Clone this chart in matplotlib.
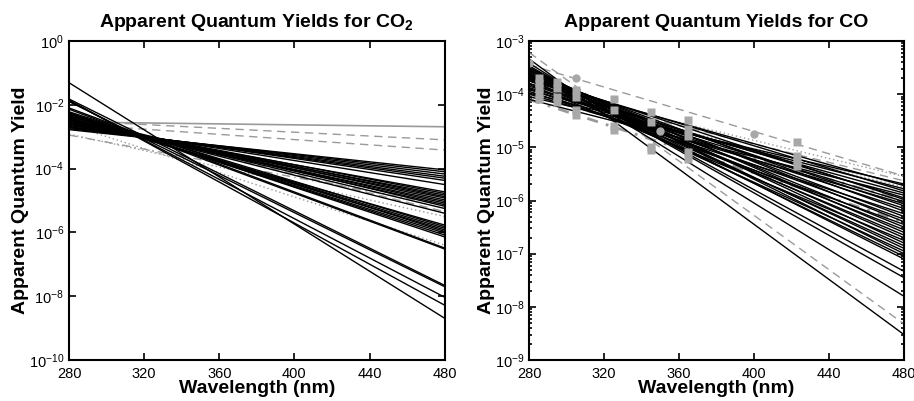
import numpy as np
import matplotlib
matplotlib.use("Agg")
import matplotlib.pyplot as plt
from matplotlib.ticker import LogLocator, FixedLocator, NullFormatter, FuncFormatter

plt.rcParams['font.family'] = ['Liberation Sans', 'DejaVu Sans']
plt.rcParams['mathtext.fontset'] = 'custom'
plt.rcParams['mathtext.rm'] = 'Liberation Sans'
plt.rcParams['mathtext.it'] = 'Liberation Sans'
plt.rcParams['mathtext.bf'] = 'Liberation Sans:bold'
plt.rcParams['mathtext.default'] = 'regular'

# ---------------- data ----------------
wl_ends = [280, 480]
x_ticks = [280, 320, 360, 400, 440, 480]

# CO2 panel: log10 yield at 280 nm (start) and 480 nm (end)
co2_black_start = [-1.31, -1.85, -1.88, -1.82, -1.90, -2.10, -2.14, -2.25, -2.28, -2.30,
                   -2.22, -2.35, -2.33, -2.27, -2.40, -2.42, -2.45, -2.38, -2.50, -2.48,
                   -2.52, -2.46, -2.55, -2.50, -2.58, -2.53, -2.60, -2.62, -2.65, -2.68,
                   -2.70, -2.72, -2.75, -2.78]
co2_black_end = [-8.69, -8.28, -8.03, -7.66, -7.70, -6.49, -6.52, -6.14, -6.08, -6.02,
                 -5.97, -5.92, -5.87, -5.82, -5.77, -5.40, -5.25, -5.18, -5.13, -5.08,
                 -5.03, -4.98, -4.92, -4.88, -4.83, -4.78, -4.73, -4.50, -4.37, -4.30,
                 -4.24, -4.17, -4.10, -4.04]
co2_gray_solid_start = [-2.54]
co2_gray_solid_end = [-2.69]
co2_gray_dashed_start = [-2.50, -2.60, -2.42]
co2_gray_dashed_end = [-3.10, -3.42, -5.35]
co2_gray_dashdot_start = [-2.95]
co2_gray_dashdot_end = [-5.15]
co2_gray_dotted_start = [-2.62, -2.92]
co2_gray_dotted_end = [-6.40, -5.50]

# CO panel
co_black_start = [-3.34, -3.42, -3.47, -3.50,
                  -4.05, -3.75, -3.98, -3.70, -3.92, -4.10, -3.80, -3.66, -3.88, -4.00,
                  -3.72, -3.85, -3.62, -3.95, -3.68, -3.80, -3.58, -3.90, -3.64, -3.75,
                  -3.55, -3.70, -3.60, -3.82, -3.52, -3.66, -3.56, -3.72, -3.50, -3.62,
                  -3.54]
co_black_end = [-8.52, -7.80, -7.45, -7.33,
                -5.69, -5.72, -5.78, -5.82, -5.86, -5.90, -5.95, -5.98, -6.02, -6.06,
                -6.10, -6.15, -6.20, -6.25, -6.30, -6.35, -6.40, -6.45, -6.50, -6.55,
                -6.60, -6.65, -6.70, -6.75, -6.80, -6.85, -6.90, -6.95, -7.00, -7.05,
                -7.10]
co_gray_dashed_start = [-3.22, -3.45, -3.90]
co_gray_dashed_end = [-8.32, -5.54, -5.63]
co_gray_dotted_start = [-3.85, -3.95, -4.00]
co_gray_dotted_end = [-5.55, -5.75, -6.05]
co_gray_dashdot_start = [-4.00, -4.10]
co_gray_dashdot_end = [-6.00, -6.40]

co_square_wl = [285, 285, 285, 285, 285, 295, 295, 295, 295, 305, 305, 305, 305,
                325, 325, 325, 325, 345, 345, 345, 345, 365, 365, 365, 365, 365,
                423, 423, 423, 423]
co_square_val = [2.0e-4, 1.6e-4, 1.3e-4, 1.0e-4, 8.0e-5, 1.7e-4, 1.3e-4, 9.0e-5, 7.0e-5,
                 1.2e-4, 9.0e-5, 5.0e-5, 4.0e-5, 8.0e-5, 5.0e-5, 2.5e-5, 2.1e-5,
                 4.6e-5, 3.0e-5, 1.0e-5, 9.0e-6, 3.3e-5, 2.2e-5, 1.6e-5, 8.0e-6, 6.0e-6,
                 1.25e-5, 7.0e-6, 5.5e-6, 4.5e-6]
co_circle_wl = [280, 305, 350, 400]
co_circle_val = [3.8e-4, 2.0e-4, 2.0e-5, 1.8e-5]

co2_ylim = (1e-10, 1e0)
co2_yticks = [1e-10, 1e-8, 1e-6, 1e-4, 1e-2, 1e0]
co_ylim = (1e-9, 1e-3)
co_yticks = [1e-9, 1e-8, 1e-7, 1e-6, 1e-5, 1e-4, 1e-3]

GRAY = '#9a9a9a'


def draw_lines(ax, starts, ends, **kw):
    for s, e in zip(starts, ends):
        ax.plot(wl_ends, [10 ** s, 10 ** e], **kw)


def sci(v, pos):
    ex = int(round(np.log10(v)))
    return r'$10^{%d}$' % ex


def style(ax, ylim, yticks, minor):
    ax.set_yscale('log')
    ax.set_xlim(280, 480)
    ax.set_ylim(*ylim)
    ax.set_xticks(x_ticks)
    ax.yaxis.set_major_locator(FixedLocator(yticks))
    ax.yaxis.set_major_formatter(FuncFormatter(sci))
    if minor:
        ax.yaxis.set_minor_locator(LogLocator(base=10, subs=np.arange(2, 10)))
    else:
        ax.yaxis.set_minor_locator(FixedLocator([]))
    ax.yaxis.set_minor_formatter(NullFormatter())
    ax.tick_params(which='both', direction='in', top=True, right=True,
                   labelsize=10.5, width=1.2)
    ax.tick_params(axis='x', pad=5)
    ax.tick_params(which='major', length=5)
    ax.tick_params(which='minor', length=2.5)
    for sp in ax.spines.values():
        sp.set_linewidth(1.5)
    ax.set_xlabel('Wavelength (nm)', fontsize=14, fontweight='bold', labelpad=-1)
    ax.set_ylabel('Apparent Quantum Yield', fontsize=14, fontweight='bold', labelpad=0)


fig = plt.figure(figsize=(9.14, 4.01), dpi=100)
ax1 = fig.add_axes([0.0755, 0.102, 0.411, 0.796])
ax2 = fig.add_axes([0.579, 0.102, 0.410, 0.796])

# CO2 panel
draw_lines(ax1, co2_gray_dotted_start, co2_gray_dotted_end, color=GRAY, lw=1.0, ls=(0, (1, 2)))
draw_lines(ax1, co2_gray_dashdot_start, co2_gray_dashdot_end, color=GRAY, lw=1.0, ls=(0, (6, 3, 1, 3)))
draw_lines(ax1, co2_gray_dashed_start, co2_gray_dashed_end, color=GRAY, lw=1.0, ls=(0, (6, 4)))
draw_lines(ax1, co2_gray_solid_start, co2_gray_solid_end, color=GRAY, lw=1.2)
draw_lines(ax1, co2_black_start, co2_black_end, color='black', lw=1.0)
style(ax1, co2_ylim, co2_yticks, minor=False)
ax1.set_title('Apparent Quantum Yields for CO$_\\mathbf{2}$', fontsize=14,
              fontweight='bold', pad=10)

# CO panel
draw_lines(ax2, co_gray_dotted_start, co_gray_dotted_end, color=GRAY, lw=1.0, ls=(0, (1, 2)))
draw_lines(ax2, co_gray_dashdot_start, co_gray_dashdot_end, color=GRAY, lw=2.0, ls=(0, (4, 3, 1, 3)))
draw_lines(ax2, co_gray_dashed_start, co_gray_dashed_end, color=GRAY, lw=1.0, ls=(0, (6, 4)))
draw_lines(ax2, co_black_start, co_black_end, color='black', lw=1.0)
ax2.plot(co_square_wl, co_square_val, ls='none', marker='s', ms=5.5, color='#a8a8a8', mec='none')
ax2.plot(co_circle_wl, co_circle_val, ls='none', marker='o', ms=6, color='#a8a8a8', mec='none')
style(ax2, co_ylim, co_yticks, minor=True)
ax2.set_title('Apparent Quantum Yields for CO', fontsize=14, fontweight='bold', pad=10)

fig.savefig('out.png', dpi=100)
